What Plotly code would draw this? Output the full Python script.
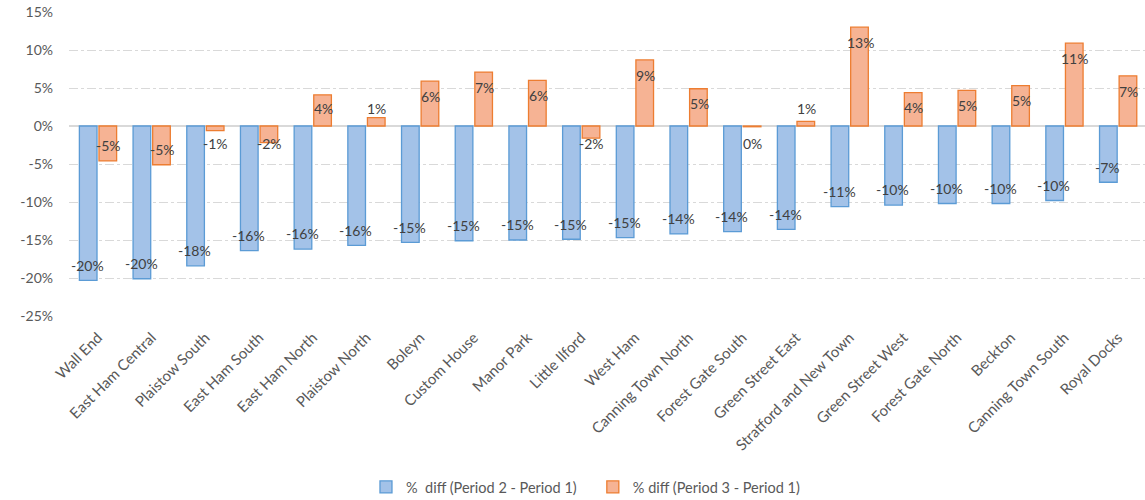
import plotly.graph_objects as go

categories = ["Wall End", "East Ham Central", "Plaistow South", "East Ham South", "East Ham North",
              "Plaistow North", "Boleyn", "Custom House", "Manor Park", "Little Ilford", "West Ham",
              "Canning Town North", "Forest Gate South", "Green Street East", "Stratford and New Town",
              "Green Street West", "Forest Gate North", "Beckton", "Canning Town South", "Royal Docks"]
diff_p2_p1 = [-20.3, -20.1, -18.4, -16.4, -16.2, -15.7, -15.3, -15.1, -15.0, -14.9, -14.7,
              -14.2, -13.9, -13.6, -10.6, -10.4, -10.2, -10.2, -9.8, -7.4]
diff_p3_p1 = [-4.6, -5.1, -0.6, -2.2, 4.1, 1.1, 5.9, 7.1, 6.0, -1.6, 8.7,
              4.9, -0.1, 0.6, 13.0, 4.4, 4.7, 5.3, 10.9, 6.6]
series_names = ["%\u00a0\u00a0diff (Period 2 - Period 1)\u00a0\u00a0\u00a0",
                "% diff (Period 3 - Period 1)"]
y_ticks = [-25, -20, -15, -10, -5, 0, 5, 10, 15]

FONT = "Lato, 'Open Sans', sans-serif"

fig = go.Figure()
fig.add_trace(go.Bar(x=categories, y=diff_p2_p1, name=series_names[0],
                     marker=dict(color="#a3c2e8", line=dict(color="#5b9bd5", width=1.3))))
fig.add_trace(go.Bar(x=categories, y=diff_p3_p1, name=series_names[1],
                     marker=dict(color="#f6b394", line=dict(color="#ed7d31", width=1.3))))

# data labels (Excel-like "inside end", pushed outside for short bars)
annotations = []
for vals, xshift in [(diff_p2_p1, -10.5), (diff_p3_p1, 10.5)]:
    for c, v in zip(categories, vals):
        s = 1 if v >= 0 else -1
        pos = s * max(abs(v) - 2.0, 2.3)
        annotations.append(dict(x=c, y=pos, xref="x", yref="y", text=f"{round(v):.0f}%",
                                showarrow=False, xshift=xshift,
                                font=dict(family=FONT, size=14, color="#404040")))
fig.update_layout(annotations=annotations)

fig.update_layout(
    width=1145, height=500,
    margin=dict(l=69, r=0, t=12, b=184, autoexpand=False),
    paper_bgcolor="white", plot_bgcolor="white",
    barmode="group", bargap=0.27, bargroupgap=0.1,
    font=dict(family=FONT, size=13, color="#595959"),
    showlegend=True,
    legend=dict(orientation="h", x=0.48, xanchor="center", y=-0.5625, yanchor="middle",
                font=dict(family=FONT, size=14.5, color="#595959"), itemwidth=30,
                traceorder="normal"),
    xaxis=dict(tickangle=-45, showgrid=False, showline=False, ticks="", automargin=False,
               ticklabelstandoff=9,
               tickfont=dict(family=FONT, size=15, color="#595959")),
    yaxis=dict(range=[-25, 15], tickvals=y_ticks, ticktext=[f"{t}%" for t in y_ticks],
               showgrid=True, gridcolor="#d9d9d9", griddash="dashdot", gridwidth=1,
               zeroline=True, zerolinecolor="#d9d9d9", zerolinewidth=1.5,
               ticks="", ticklabelstandoff=15, automargin=False,
               tickfont=dict(family=FONT, size=14, color="#595959")),
)

fig.write_html("out.html", config={"displayModeBar": False},
               post_script="document.body.style.margin='0px';document.body.style.overflow='hidden';")
